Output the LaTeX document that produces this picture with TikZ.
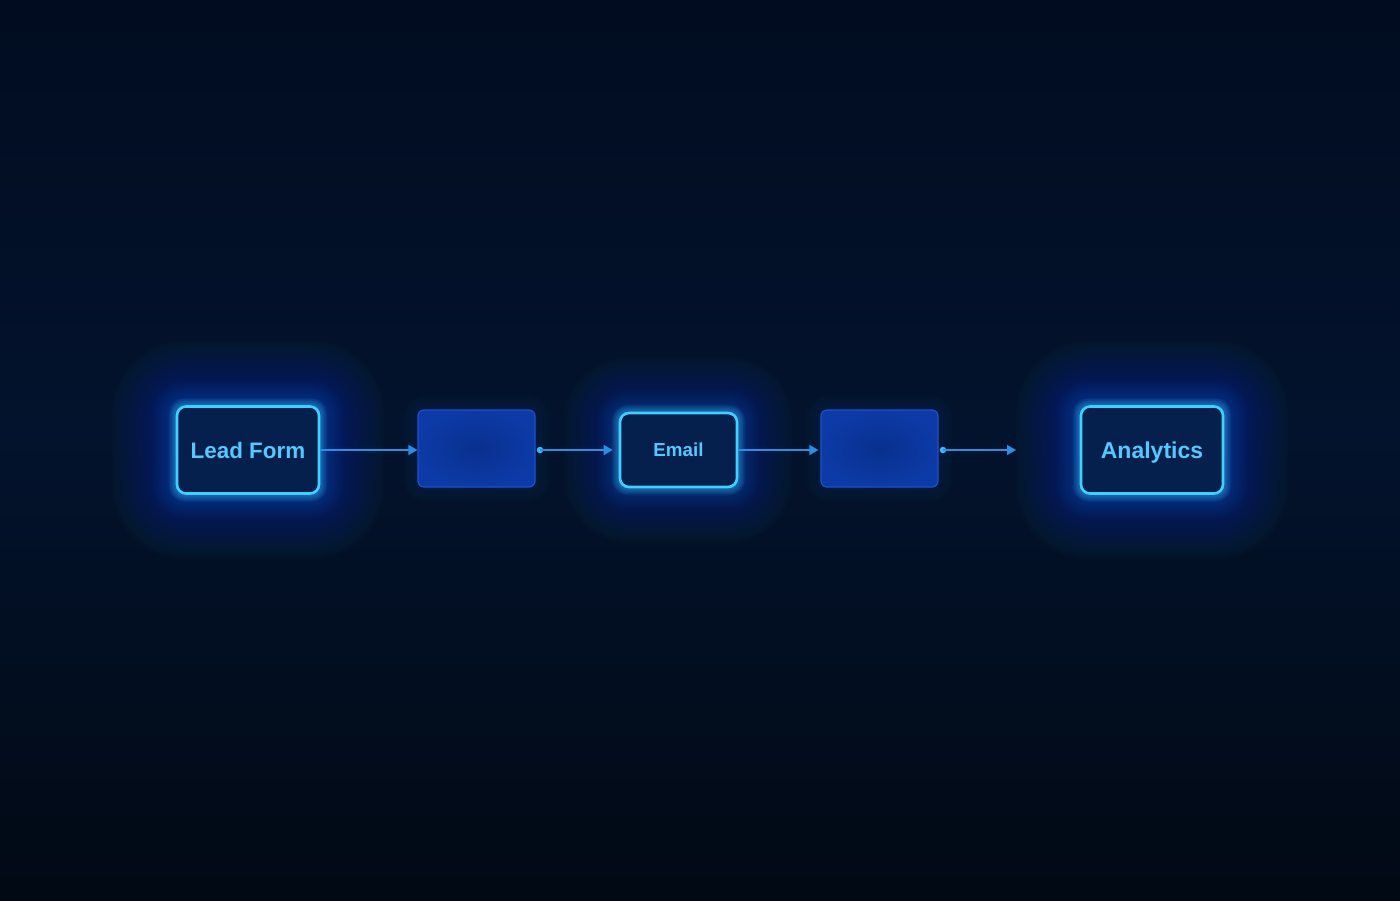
\documentclass[tikz,border=0pt]{standalone}
\usepackage{fontspec}
\setmainfont{Liberation Sans}
\usetikzlibrary{arrows.meta,backgrounds}
\definecolor{bgtop}{HTML}{010C20}
\definecolor{bgmid}{HTML}{03132D}
\definecolor{bgbot}{HTML}{010914}
\definecolor{neon}{HTML}{40D0FF}
\definecolor{glowc}{HTML}{2696EC}
\definecolor{txtc}{HTML}{55C8FF}
\definecolor{boxin}{HTML}{05204C}
\definecolor{emptyin}{HTML}{09308E}
\definecolor{emptyout}{HTML}{0C3AA6}
\definecolor{emptyedge}{HTML}{1B52CC}
\definecolor{linec}{HTML}{2A8EE6}
\definecolor{dotcol}{HTML}{38B8FF}
\tikzset{
  neonbox/.style={draw=neon, line width=2.6pt, fill=boxin, rounded corners=9pt,
    text=txtc, inner sep=0pt, align=center, text depth=0pt},
  emptybox/.style={draw=emptyedge, line width=1.2pt, inner color=emptyin, outer color=emptyout,
    rounded corners=6pt, minimum width=117pt, minimum height=77pt, inner sep=0pt},
  conn/.style={draw=linec, line width=1.6pt, -{Triangle[length=9pt,width=10pt]}},
  dotc/.style={circle, fill=dotcol, minimum size=6.5pt, inner sep=0pt}
}
\newcommand{\myglow}[4]{% node, max width, step opacity, colour
  \foreach \w in {2,4,...,#2}{
    \draw[draw=#4, line width=\w pt, draw opacity=#3, rounded corners=9pt, line join=round]
      (#1.south west) rectangle (#1.north east);
  }}
\begin{document}
\begin{tikzpicture}[x=1pt,y=-1pt]
  % nodes
  \node[neonbox, minimum width=142pt, minimum height=87pt, font=\bfseries\fontsize{22.4}{25}\selectfont] (lf) at (248,450) {Lead Form};
  \node[emptybox] (b1) at (476.5,448.5) {};
  \node[neonbox, minimum width=117pt, minimum height=74pt, font=\bfseries\fontsize{18.8}{21}\selectfont] (em) at (678.5,450) {Email};
  \node[emptybox] (b2) at (879.5,448.5) {};
  \node[neonbox, minimum width=142pt, minimum height=87pt, font=\bfseries\fontsize{23}{26}\selectfont] (an) at (1152,450) {Analytics};
  % dots and free end
  \node[dotc] (d1) at (540,450) {};
  \node[dotc] (d2) at (943,450) {};
  \coordinate (endc) at (1016,450);
  % connectors
  \draw[conn] (lf.east |- 0,450) -- (b1.west |- 0,450);
  \draw[conn] (d1.center) -- ([xshift=-6pt]em.west);
  \draw[conn] (em.east) -- ([xshift=-2pt]b2.west |- 0,450);
  \draw[conn] (d2.center) -- (endc);
  \begin{scope}[on background layer]
    \shade[top color=bgtop, bottom color=bgmid] (0,0) rectangle (1400,430);
    \shade[top color=bgmid, bottom color=bgbot] (0,430) rectangle (1400,900);
    \myglow{lf}{130}{0.008}{glowc}
    \myglow{an}{130}{0.008}{glowc}
    \myglow{em}{110}{0.008}{glowc}
    \myglow{lf}{50}{0.013}{glowc}
    \myglow{an}{50}{0.013}{glowc}
    \myglow{em}{44}{0.013}{glowc}
    \myglow{lf}{14}{0.06}{neon}
    \myglow{an}{14}{0.06}{neon}
    \myglow{em}{14}{0.06}{neon}
    \myglow{b1}{30}{0.009}{glowc}
    \myglow{b2}{30}{0.009}{glowc}
  \end{scope}
  \useasboundingbox (0,0) rectangle (1400,900);
\end{tikzpicture}
\end{document}
